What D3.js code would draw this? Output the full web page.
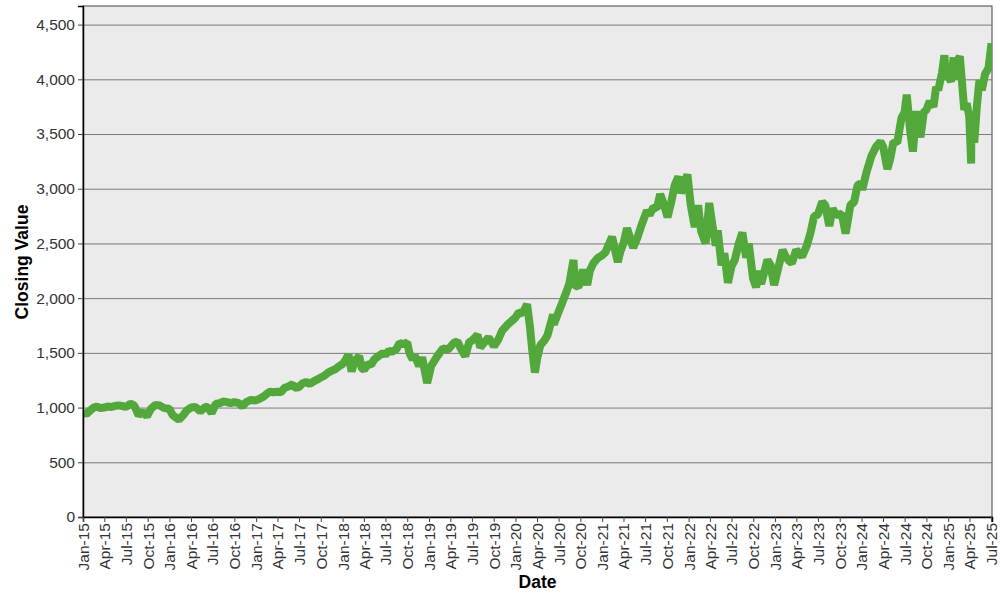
<!DOCTYPE html>
<html>
<head>
<meta charset="utf-8">
<script src="https://cdn.jsdelivr.net/npm/d3@7"></script>
<style>
  body { margin: 0; background: #fff; }
  .tick text { font-family: "Liberation Sans", Arial, sans-serif; }
</style>
</head>
<body>
<div id="chart"></div>
<script>
// Closing values (roughly two points per month)
const dates = [
    '2015-01-02', '2015-01-15', '2015-02-01', '2015-02-15', '2015-03-01', '2015-03-15', '2015-04-01', '2015-04-15',
    '2015-05-01', '2015-05-15', '2015-06-01', '2015-06-15', '2015-07-01', '2015-07-20', '2015-08-05', '2015-08-24',
    '2015-09-10', '2015-09-28', '2015-10-15', '2015-11-03', '2015-11-20', '2015-12-10', '2015-12-31',
    '2016-01-15', '2016-02-10', '2016-02-28', '2016-03-15', '2016-04-01', '2016-04-20', '2016-05-10', '2016-05-31',
    '2016-06-10', '2016-06-27', '2016-07-15', '2016-08-01', '2016-08-15', '2016-09-01', '2016-09-15', '2016-10-01',
    '2016-10-20', '2016-11-04', '2016-11-20', '2016-12-10', '2016-12-31',
    '2017-01-15', '2017-02-01', '2017-02-15', '2017-03-01', '2017-03-15', '2017-04-01', '2017-04-15', '2017-05-01',
    '2017-05-15', '2017-06-05', '2017-06-12', '2017-06-30', '2017-07-15', '2017-08-01', '2017-08-15', '2017-09-01',
    '2017-09-15', '2017-10-01', '2017-10-15', '2017-11-01', '2017-11-15', '2017-12-01', '2017-12-15',
    '2018-01-02', '2018-01-15', '2018-01-26', '2018-02-08', '2018-02-20', '2018-03-12', '2018-03-23', '2018-04-02',
    '2018-04-18', '2018-05-01', '2018-05-15', '2018-06-01', '2018-06-20', '2018-07-01', '2018-07-15', '2018-07-26',
    '2018-08-15', '2018-08-30', '2018-09-15', '2018-10-01', '2018-10-10', '2018-10-24', '2018-11-01', '2018-11-20',
    '2018-12-03', '2018-12-24',
    '2019-01-10', '2019-01-30', '2019-02-15', '2019-03-01', '2019-03-22', '2019-04-15', '2019-05-01', '2019-05-15',
    '2019-06-03', '2019-06-20', '2019-07-01', '2019-07-25', '2019-08-05', '2019-08-20', '2019-09-10', '2019-10-02',
    '2019-10-20', '2019-11-05', '2019-11-25', '2019-12-15', '2019-12-31',
    '2020-01-15', '2020-01-31', '2020-02-19', '2020-03-01', '2020-03-12', '2020-03-23', '2020-04-01', '2020-04-15',
    '2020-05-01', '2020-05-15', '2020-06-08', '2020-06-11', '2020-06-30', '2020-07-15', '2020-07-31', '2020-08-15',
    '2020-09-02', '2020-09-08', '2020-09-23', '2020-10-12', '2020-10-30', '2020-11-10', '2020-11-25', '2020-12-15',
    '2020-12-31',
    '2021-01-15', '2021-02-12', '2021-03-08', '2021-03-18', '2021-04-01', '2021-04-16', '2021-05-12', '2021-05-31',
    '2021-06-15', '2021-07-09', '2021-07-20', '2021-08-05', '2021-08-20', '2021-09-03', '2021-09-20', '2021-10-04',
    '2021-10-20', '2021-11-03', '2021-11-19', '2021-11-30', '2021-12-10', '2021-12-27',
    '2022-01-10', '2022-01-27', '2022-02-10', '2022-02-23', '2022-03-14', '2022-03-29', '2022-04-12', '2022-04-26',
    '2022-05-04', '2022-05-20', '2022-06-01', '2022-06-16', '2022-07-01', '2022-07-15', '2022-08-01', '2022-08-16',
    '2022-09-01', '2022-09-12', '2022-09-30', '2022-10-13', '2022-10-27', '2022-11-03', '2022-11-30', '2022-12-13',
    '2022-12-28',
    '2023-01-15', '2023-02-02', '2023-02-15', '2023-03-01', '2023-03-13', '2023-03-31', '2023-04-25', '2023-05-15',
    '2023-05-31', '2023-06-15', '2023-06-30', '2023-07-19', '2023-08-01', '2023-08-18', '2023-09-01', '2023-09-15',
    '2023-10-10', '2023-10-26', '2023-11-15', '2023-12-01', '2023-12-15', '2023-12-29',
    '2024-01-04', '2024-01-22', '2024-02-12', '2024-03-01', '2024-03-21', '2024-04-02', '2024-04-19', '2024-05-01',
    '2024-05-15', '2024-05-31', '2024-06-18', '2024-07-01', '2024-07-10', '2024-07-25', '2024-08-05', '2024-08-20',
    '2024-09-06', '2024-09-20', '2024-10-01', '2024-10-15', '2024-10-31', '2024-11-11', '2024-11-20', '2024-12-06',
    '2024-12-16', '2024-12-20',
    '2025-01-02', '2025-01-13', '2025-01-24', '2025-01-27', '2025-02-05', '2025-02-19', '2025-03-03', '2025-03-10',
    '2025-03-20', '2025-03-31', '2025-04-08', '2025-04-09', '2025-04-21', '2025-05-02', '2025-05-13', '2025-05-23',
    '2025-06-06', '2025-06-20', '2025-07-03'
];

const closes = [
    960, 940, 975, 1000, 1010, 995, 1000, 1010,
    1005, 1015, 1020, 1015, 1005, 1035, 1020, 930,
    960, 920, 990, 1025, 1020, 995, 990,
    930, 890, 930, 975, 1000, 1005, 965, 1005,
    1005, 950, 1035, 1040, 1055, 1050, 1040, 1050,
    1040, 1010, 1050, 1070, 1065,
    1080, 1100, 1125, 1145, 1140, 1145, 1140, 1180,
    1190, 1215, 1180, 1185, 1220, 1235, 1215, 1240,
    1255, 1275, 1290, 1320, 1335, 1350, 1375,
    1400, 1440, 1485, 1330, 1420, 1470, 1360, 1345,
    1400, 1390, 1440, 1470, 1500, 1480, 1520, 1510,
    1530, 1590, 1580, 1595, 1500, 1440, 1480, 1380,
    1460, 1225,
    1380, 1450, 1500, 1540, 1530, 1590, 1605, 1540,
    1470, 1600, 1610, 1665, 1550, 1590, 1640, 1560,
    1620, 1700, 1750, 1790, 1820,
    1870, 1860, 1945, 1760, 1520, 1320, 1440, 1570,
    1610, 1660, 1850, 1760, 1870, 1950, 2040, 2130,
    2350, 2120, 2100, 2260, 2120, 2250, 2320, 2370,
    2390,
    2420, 2560, 2330, 2420, 2500, 2640, 2460, 2560,
    2660, 2800, 2760, 2830, 2820, 2950, 2850, 2740,
    2880, 3030, 3110, 2960, 3020, 3130,
    2850, 2650, 2850, 2610, 2500, 2870, 2660, 2480,
    2620, 2300, 2410, 2140, 2290, 2350, 2500, 2600,
    2370, 2500, 2180, 2100, 2250, 2130, 2350, 2300,
    2120,
    2280, 2440, 2380, 2340, 2320, 2440, 2380, 2480,
    2600, 2750, 2760, 2880, 2850, 2660, 2820, 2760,
    2770, 2590, 2850, 2880, 3030, 3050,
    2990, 3150, 3300, 3380, 3430, 3380, 3180, 3270,
    3430, 3420, 3650, 3700, 3860, 3520, 3340, 3710,
    3470, 3700, 3720, 3800, 3750, 3930, 3900, 4060,
    4220, 4080,
    4020, 3980, 4200, 4000, 4150, 4210, 3900, 3720,
    3780, 3660, 3230, 3690, 3420, 3750, 3990, 3900,
    4050, 4100, 4330
];

const yTicks = [0, 500, 1000, 1500, 2000, 2500, 3000, 3500, 4000, 4500];

const width = 1000;
const height = 600;
const margin = { top: 6, right: 8, bottom: 83, left: 83 };

const parseDate = d3.timeParse('%Y-%m-%d');
const data = dates.map((d, i) => ({ date: parseDate(d), value: closes[i] }));

const svg = d3.select('#chart')
    .append('svg')
    .attr('width', width)
    .attr('height', height);

const x = d3.scaleTime()
    .domain([new Date(2015, 0, 1), new Date(2025, 6, 5)])
    .range([margin.left, width - margin.right]);

const y = d3.scaleLinear()
    .domain([0, 4670])
    .range([height - margin.bottom, margin.top]);

// plot background
svg.append('rect')
    .attr('x', margin.left)
    .attr('y', margin.top)
    .attr('width', width - margin.left - margin.right)
    .attr('height', height - margin.top - margin.bottom)
    .attr('fill', '#ebebeb')
    .attr('stroke', '#444')
    .attr('stroke-width', 1);

// horizontal grid
svg.append('g')
    .selectAll('line')
    .data(yTicks.slice(1))
    .enter()
    .append('line')
    .attr('x1', margin.left)
    .attr('x2', width - margin.right)
    .attr('y1', d => y(d) + 0.5)
    .attr('y2', d => y(d) + 0.5)
    .attr('stroke', '#7a7a7a')
    .attr('stroke-width', 1);

// the series
const line = d3.line()
    .x(d => x(d.date))
    .y(d => y(d.value));

svg.append('defs').append('clipPath')
    .attr('id', 'plot-clip')
    .append('rect')
    .attr('x', margin.left)
    .attr('y', margin.top)
    .attr('width', width - margin.left - margin.right)
    .attr('height', height - margin.top - margin.bottom);

svg.append('path')
    .datum(data)
    .attr('clip-path', 'url(#plot-clip)')
    .attr('d', line)
    .attr('fill', 'none')
    .attr('stroke', '#52a83b')
    .attr('stroke-width', 8)
    .attr('stroke-linejoin', 'bevel');

// axes
const yAxis = svg.append('g')
    .attr('transform', `translate(${margin.left},0)`)
    .call(d3.axisLeft(y)
        .tickValues(yTicks)
        .tickSize(5)
        .tickPadding(3)
        .tickFormat(d3.format(',')));

const xAxis = svg.append('g')
    .attr('transform', `translate(0,${height - margin.bottom})`)
    .call(d3.axisBottom(x)
        .ticks(d3.timeMonth.every(3))
        .tickSize(5)
        .tickFormat(d3.timeFormat('%b-%y')));

[yAxis, xAxis].forEach(g => {
    g.select('.domain').attr('stroke', '#000').attr('stroke-width', 1.5);
    g.selectAll('.tick line').attr('stroke', '#444');
    g.selectAll('.tick text')
        .attr('fill', '#333')
        .style('font-size', '15.5px');
});

xAxis.selectAll('.tick text')
    .attr('transform', 'rotate(-90)')
    .attr('text-anchor', 'end')
    .attr('x', -6)
    .attr('y', 0)
    .attr('dy', '0.35em');

// axis titles
svg.append('text')
    .attr('x', (margin.left + width - margin.right) / 2)
    .attr('y', 588)
    .attr('text-anchor', 'middle')
    .style('font-family', '"Liberation Sans", Arial, sans-serif')
    .style('font-size', '17.5px')
    .style('font-weight', 'bold')
    .text('Date');

svg.append('text')
    .attr('transform', 'translate(28,262) rotate(-90)')
    .attr('text-anchor', 'middle')
    .style('font-family', '"Liberation Sans", Arial, sans-serif')
    .style('font-size', '17.5px')
    .style('font-weight', 'bold')
    .text('Closing Value');
</script>
</body>
</html>
